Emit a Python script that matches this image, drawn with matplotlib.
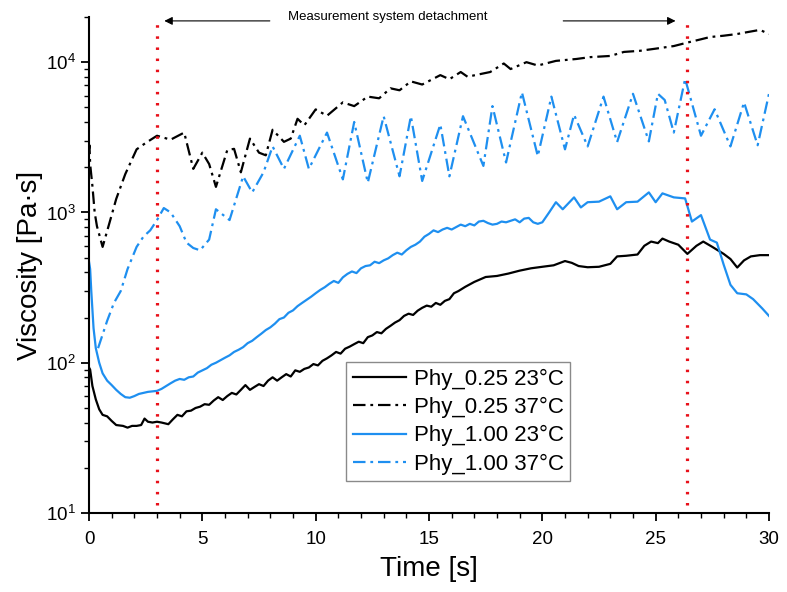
#!/usr/bin/env python3

import numpy as np
from matplotlib import pyplot as plt
from matplotlib.ticker import MultipleLocator, LogLocator

plt.rcParams['font.family'] = ['Liberation Sans', 'DejaVu Sans']
plt.rcParams['mathtext.default'] = 'regular'
plt.rcParams['lines.scale_dashes'] = False

BLUE = '#1E8FF0'

# Phy_0.25 23°C
t_025_23 = [0, 0.05, 0.15, 0.3, 0.45, 0.6, 0.8, 1.0, 1.2, 1.5, 1.7, 1.9, 2.1, 2.3, 2.45, 2.6,
            2.8, 3.0, 3.2, 3.5, 3.7, 3.9, 4.1, 4.3, 4.5, 4.7, 4.9, 5.1, 5.3, 5.5, 5.7, 5.9,
            6.1, 6.3, 6.5, 6.7, 6.9, 7.1, 7.3, 7.5, 7.7, 7.9, 8.1, 8.3, 8.5, 8.7, 8.9, 9.1,
            9.3, 9.5, 9.7, 9.9, 10.1, 10.3, 10.5, 10.7, 10.9, 11.1, 11.3, 11.5, 11.7, 11.9,
            12.1, 12.3, 12.5, 12.7, 12.9, 13.1, 13.3, 13.5, 13.7, 13.9, 14.1, 14.3, 14.5,
            14.7, 14.9, 15.1, 15.3, 15.5, 15.7, 15.9, 16.1, 16.3, 16.6, 17.0, 17.5, 18.0,
            18.5, 19.0, 19.5, 20.0, 20.5, 21.0, 21.3, 21.6, 22.0, 22.5, 23.0, 23.3, 23.7,
            24.2, 24.5, 24.8, 25.1, 25.3, 25.6, 26.0, 26.4, 26.8, 27.1, 27.5, 28.0, 28.3,
            28.6, 28.9, 29.2, 29.6, 30.0]
v_025_23 = [93, 90, 70, 57, 49, 45, 44, 41, 38.5, 38, 37, 38, 38, 38.5, 42.5, 40.5,
            40, 40.5, 40, 39, 42, 45, 44, 47.5, 48, 50, 51, 53, 52.5, 56, 59, 56.5,
            60, 63, 61.5, 66, 71, 66, 69, 72, 70, 76, 80, 76, 80, 84, 81, 89,
            87, 91, 93, 98, 96, 103, 107, 112, 118, 115, 124, 128, 133, 138,
            135, 148, 152, 160, 157, 168, 176, 185, 192, 205, 212, 208, 222,
            232, 240, 236, 250, 243, 258, 265, 290, 300, 320, 345, 372, 378,
            392, 410, 425, 435, 445, 475, 462, 440, 432, 435, 455, 510, 515,
            525, 600, 640, 625, 670, 640, 610, 530, 600, 640, 590, 530, 490,
            430, 480, 510, 520, 520]

# Phy_0.25 37°C
t_025_37 = [0, 0.02, 0.05, 0.15, 0.25, 0.35, 0.6, 0.9, 1.2, 1.6, 2.1, 2.5, 3.0, 3.6, 4.2,
            4.6, 5.0, 5.3, 5.6, 6.1, 6.4, 6.7, 7.1, 7.5, 7.8, 8.1, 8.6, 8.9, 9.2, 9.5,
            10.0, 10.5, 11.2, 11.7, 12.3, 12.8, 13.3, 13.7, 14.2, 14.7, 15.5, 15.9, 16.4,
            16.7, 17.7, 18.3, 18.6, 19.3, 19.8, 20.6, 21.5, 22.1, 23.0, 23.6, 24.3, 25.0,
            25.8, 26.4, 27.0, 27.4, 28.0, 28.6, 29.0, 29.6, 30.0]
v_025_37 = [2650, 2800, 2100, 1500, 1000, 810, 590, 850, 1230, 1800, 2630, 2900, 3240, 3050, 3400,
            1950, 2500, 2100, 1480, 2600, 2650, 1850, 3100, 2500, 2400, 3550, 2950, 3100, 4200, 3800,
            4850, 4400, 5400, 5100, 5900, 5750, 6700, 6500, 7450, 7100, 8200, 7700, 8600,
            8000, 8600, 9800, 9000, 10000, 9500, 10200, 10500, 10800, 11000, 11700, 11900, 12300,
            12800, 13500, 14200, 14700, 15000, 15400, 15800, 16400, 15400]

# Phy_1.00 23°C
t_100_23 = [0, 0.05, 0.1, 0.2, 0.3, 0.45, 0.6, 0.8, 1.0, 1.2, 1.4, 1.6, 1.8, 2.0, 2.2, 2.4,
            2.6, 2.8, 3.0, 3.2, 3.4, 3.6, 3.8, 4.0, 4.2, 4.4, 4.6, 4.8, 5.0, 5.2, 5.4, 5.6,
            5.8, 6.0, 6.2, 6.4, 6.6, 6.8, 7.0, 7.2, 7.4, 7.6, 7.8, 8.0, 8.2, 8.4, 8.6, 8.8,
            9.0, 9.2, 9.4, 9.6, 9.8, 10.0, 10.2, 10.4, 10.6, 10.8, 11.0, 11.2, 11.4, 11.6,
            11.8, 12.0, 12.2, 12.4, 12.6, 12.8, 13.0, 13.2, 13.4, 13.6, 13.8, 14.0, 14.2,
            14.4, 14.6, 14.8, 15.0, 15.2, 15.4, 15.6, 15.8, 16.0, 16.2, 16.4, 16.6, 16.8,
            17.0, 17.2, 17.4, 17.6, 17.8, 18.0, 18.2, 18.4, 18.6, 18.8, 19.0, 19.2, 19.4,
            19.6, 19.8, 20.0, 20.3, 20.6, 20.9, 21.4, 21.7, 22.0, 22.5, 23.0, 23.3, 23.7,
            24.2, 24.7, 25.0, 25.3, 25.8, 26.3, 26.6, 27.0, 27.4, 27.7, 28.0, 28.3, 28.6,
            29.0, 29.3, 29.7, 30.0]
v_100_23 = [470, 420, 300, 170, 125, 100, 85, 76, 71, 66, 62, 59, 58.5, 60, 62, 63,
            64, 64.5, 65, 67, 70, 73, 76, 78, 77, 80, 81, 86, 89, 92, 97, 100,
            104, 108, 112, 118, 122, 127, 135, 140, 148, 156, 165, 172, 182, 195, 200, 215,
            223, 238, 250, 262, 275, 290, 305, 318, 335, 350, 340, 370, 390, 405,
            395, 425, 440, 445, 470, 460, 480, 495, 520, 540, 525, 560, 590,
            610, 640, 690, 720, 760, 740, 770, 790, 770, 800, 830, 810, 840,
            820, 870, 880, 850, 830, 840, 870, 860, 880, 900, 860, 910, 920,
            860, 840, 860, 1000, 1170, 1050, 1260, 1080, 1170, 1180, 1280, 1050, 1170,
            1180, 1360, 1170, 1340, 1260, 1240, 870, 960, 660, 630, 450, 330, 290,
            285, 265, 230, 205]

# Phy_1.00 37°C
t_100_37 = [0.4, 0.8, 1.1, 1.4, 1.7, 2.1, 2.4, 2.7, 3.0, 3.3, 3.6, 4.0, 4.3, 4.6, 4.9,
            5.3, 5.6, 6.2, 6.8, 7.2, 7.7, 8.1, 8.6, 9.3, 9.7, 10.5, 11.2, 11.7, 12.3,
            13.0, 13.7, 14.2, 14.7, 15.5, 15.9, 16.5, 17.4, 17.8, 18.4, 19.1, 19.8, 20.4,
            21.0, 21.4, 22.0, 22.7, 23.3, 24.0, 24.7, 25.1, 25.4, 25.8, 26.3, 27.0, 27.6,
            28.3, 28.9, 29.5, 30.0]
v_100_37 = [125, 190, 250, 300, 420, 590, 690, 760, 890, 1070, 1000, 810, 630, 580, 560,
            660, 1050, 890, 1740, 1360, 1850, 2750, 1950, 3240, 1950, 3400, 1660, 4000, 1580,
            4370, 1740, 4370, 1620, 3850, 1740, 4370, 2040, 5100, 2150, 6300, 2370, 5900,
            2630, 4470, 2750, 5900, 2940, 6160, 2970, 6160, 5600, 3400, 7750, 3240, 4860,
            2750, 5400, 2800, 6160]

DETACH_START = 3.0
DETACH_END = 26.4


def main():
  fig = plt.figure(figsize=(7.87, 5.92), dpi=100)
  ax = fig.add_axes([0.1131, 0.1334, 0.864, 0.838])

  dashdot = (0, (9, 3.5, 2, 3.5))
  ax.plot(t_025_23, v_025_23, color='black', lw=1.6, label='Phy_0.25 23°C')
  ax.plot(t_025_37, v_025_37, color='black', lw=1.6, linestyle=dashdot, label='Phy_0.25 37°C')
  ax.plot(t_100_23, v_100_23, color=BLUE, lw=1.6, label='Phy_1.00 23°C')
  ax.plot(t_100_37, v_100_37, color=BLUE, lw=1.6, linestyle=dashdot, label='Phy_1.00 37°C')

  for x in [DETACH_START, DETACH_END]:
    ax.axvline(x, ymin=0.016, ymax=1.0, color='#e8101a', lw=2.3, linestyle=(0, (1.8, 6.2)), clip_on=False)

  ax.set_yscale('log')
  ax.set_xlim(0, 30)
  ax.set_ylim(10, 2e4)

  ax.xaxis.set_major_locator(MultipleLocator(5))
  ax.xaxis.set_minor_locator(MultipleLocator(1))
  ax.yaxis.set_major_locator(LogLocator(base=10, numticks=10))
  ax.yaxis.set_minor_locator(LogLocator(base=10, subs=np.arange(2, 10), numticks=20))

  for side in ['top', 'right']:
    ax.spines[side].set_visible(False)
  for side in ['left', 'bottom']:
    ax.spines[side].set_linewidth(1.5)

  ax.tick_params(which='major', direction='out', length=6, width=1.3, labelsize=13.5)
  ax.tick_params(axis='x', which='major', pad=7)
  ax.tick_params(which='minor', direction='out', length=3.5, width=1.0)

  ax.set_xlabel('Time [s]', fontsize=20, labelpad=6)
  ax.set_ylabel('Viscosity [Pa·s]', fontsize=20, labelpad=2)

  # detachment arrows and note
  ax.annotate('', xy=(3.2, 0.992), xytext=(8.1, 0.992), xycoords=('data', 'axes fraction'),
              arrowprops=dict(arrowstyle='-|>', color='black', lw=0.8, mutation_scale=12))
  ax.annotate('', xy=(26.0, 0.992), xytext=(20.8, 0.992), xycoords=('data', 'axes fraction'),
              arrowprops=dict(arrowstyle='-|>', color='black', lw=0.8, mutation_scale=12))
  ax.text(13.2, 1.0, 'Measurement system detachment', transform=ax.get_xaxis_transform(),
          ha='center', va='center', fontsize=9.5)

  leg = ax.legend(loc='lower left', bbox_to_anchor=(0.378, 0.064), fontsize=16, fancybox=False,
                  framealpha=1, edgecolor='#8a8a8a', handlelength=2.4, handletextpad=0.35,
                  borderpad=0.3, labelspacing=0.32, borderaxespad=0)
  leg.get_frame().set_linewidth(1.0)

  fig.savefig('out.png', dpi=100)


if __name__ == "__main__":
  main()
